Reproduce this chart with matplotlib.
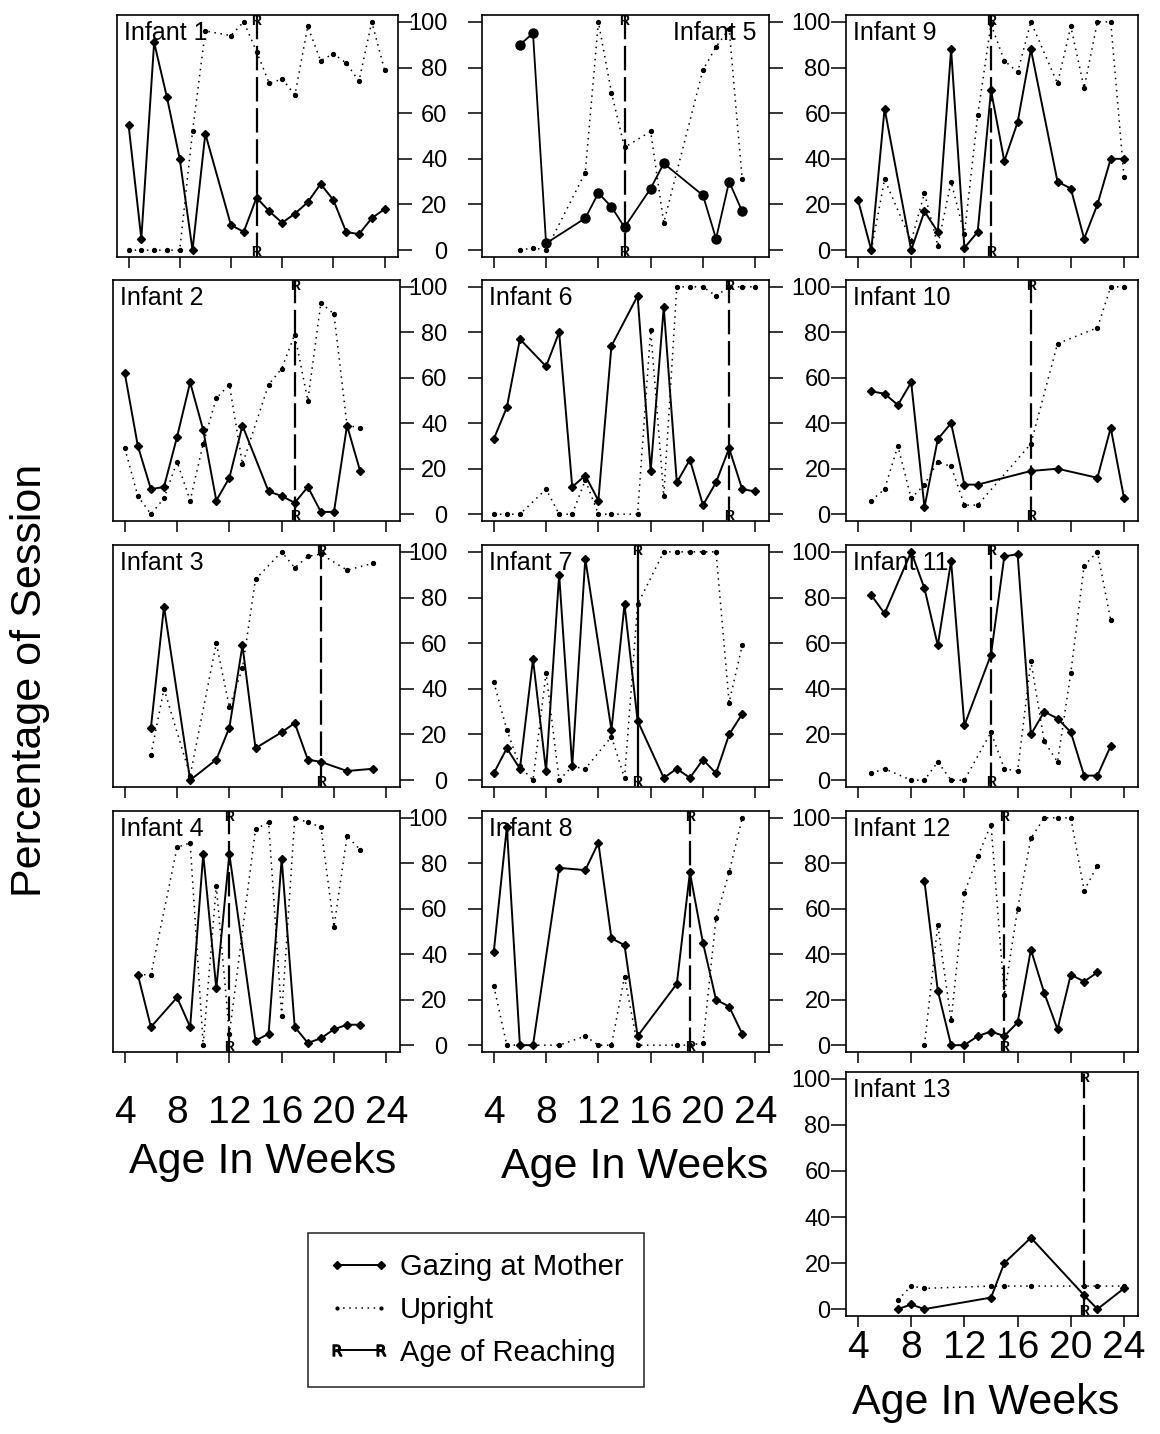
import numpy as np
import matplotlib
matplotlib.use("Agg")
import matplotlib.pyplot as plt
from matplotlib.lines import Line2D

plt.rcParams['font.family'] = ['Liberation Sans', 'DejaVu Sans']

# data: weeks, % gazing at mother, % upright, age of reaching
inf1_wk = [4, 5, 6, 7, 8, 9, 10, 12, 13, 14, 15, 16, 17, 18, 19, 20, 21, 22, 23, 24]
inf1_gaze = [55, 5, 91, 67, 40, 0, 51, 11, 8, 23, 17, 12, 16, 21, 29, 22, 8, 7, 14, 18]
inf1_up = [0, 0, 0, 0, 0, 52, 96, 94, 100, 87, 73, 75, 68, 98, 83, 86, 82, 74, 100, 79]
inf1_reach = 14

inf2_wk = [4, 5, 6, 7, 8, 9, 10, 11, 12, 13, 15, 16, 17, 18, 19, 20, 21, 22]
inf2_gaze = [62, 30, 11, 12, 34, 58, 37, 6, 16, 39, 10, 8, 5, 12, 1, 1, 39, 19]
inf2_up = [29, 8, 0, 7, 23, 6, 31, 51, 57, 22, 57, 64, 79, 50, 93, 88, 39, 38]
inf2_reach = 17

inf3_wk = [6, 7, 9, 11, 12, 13, 14, 16, 17, 18, 19, 21, 23]
inf3_gaze = [23, 76, 0, 9, 23, 59, 14, 21, 25, 9, 8, 4, 5]
inf3_up = [11, 40, 2, 60, 32, 49, 88, 100, 93, 98, 99, 92, 95]
inf3_reach = 19

inf4_wk = [5, 6, 8, 9, 10, 11, 12, 14, 15, 16, 17, 18, 19, 20, 21, 22]
inf4_gaze = [31, 8, 21, 8, 84, 25, 84, 2, 5, 82, 8, 1, 3, 7, 9, 9]
inf4_up = [31, 31, 87, 89, 0, 70, 5, 95, 98, 13, 100, 98, 96, 52, 92, 86]
inf4_reach = 12

inf5_wk = [6, 7, 8, 11, 12, 13, 14, 16, 17, 20, 21, 22, 23]
inf5_gaze = [90, 95, 3, 14, 25, 19, 10, 27, 38, 24, 5, 30, 17]
inf5_up = [0, 1, 0, 34, 100, 69, 45, 52, 12, 79, 89, 97, 31]
inf5_reach = 14

inf6_wk = [4, 5, 6, 8, 9, 10, 11, 12, 13, 15, 16, 17, 18, 19, 20, 21, 22, 23, 24]
inf6_gaze = [33, 47, 77, 65, 80, 12, 17, 6, 74, 96, 19, 91, 14, 24, 4, 14, 29, 11, 10]
inf6_up = [0, 0, 0, 11, 0, 0, 15, 0, 0, 0, 81, 8, 100, 100, 100, 96, 100, 100, 100]
inf6_reach = 22

inf7_wk = [4, 5, 6, 7, 8, 9, 10, 11, 13, 14, 15, 17, 18, 19, 20, 21, 22, 23]
inf7_gaze = [3, 14, 5, 53, 4, 90, 6, 97, 22, 77, 26, 1, 5, 1, 9, 3, 20, 29]
inf7_up = [43, 22, 6, 0, 47, 0, 6, 5, 19, 1, 77, 100, 100, 100, 100, 100, 34, 59]
inf7_reach = 15

inf8_wk = [4, 5, 6, 7, 9, 11, 12, 13, 14, 15, 18, 19, 20, 21, 22, 23]
inf8_gaze = [41, 96, 0, 0, 78, 77, 89, 47, 44, 4, 27, 76, 45, 20, 17, 5]
inf8_up = [26, 0, 0, 0, 0, 4, 0, 0, 30, 0, 0, 0, 1, 56, 76, 100]
inf8_reach = 19

inf9_wk = [4, 5, 6, 8, 9, 10, 11, 12, 13, 14, 15, 16, 17, 19, 20, 21, 22, 23, 24]
inf9_gaze = [22, 0, 62, 0, 17, 8, 88, 1, 8, 70, 39, 56, 88, 30, 27, 5, 20, 40, 40]
inf9_up = [np.nan, 0, 31, 4, 25, 2, 30, 7, 59, 99, 83, 78, 100, 73, 98, 71, 100, 100, 32]
inf9_reach = 14

inf10_wk = [5, 6, 7, 8, 9, 10, 11, 12, 13, 17, 19, 22, 23, 24]
inf10_gaze = [54, 53, 48, 58, 3, 33, 40, 13, 13, 19, 20, 16, 38, 7]
inf10_up = [6, 11, 30, 7, 13, 23, 21, 4, 4, 31, 75, 82, 100, 100]
inf10_reach = 17

inf11_wk = [5, 6, 8, 9, 10, 11, 12, 14, 15, 16, 17, 18, 19, 20, 21, 22, 23]
inf11_gaze = [81, 73, 100, 84, 59, 96, 24, 55, 98, 99, 20, 30, 27, 21, 2, 2, 15]
inf11_up = [3, 5, 0, 0, 8, 0, 0, 21, 5, 4, 52, 17, 8, 47, 94, 100, 70]
inf11_reach = 14

inf12_wk = [9, 10, 11, 12, 13, 14, 15, 16, 17, 18, 19, 20, 21, 22]
inf12_gaze = [72, 24, 0, 0, 4, 6, 4, 10, 42, 23, 7, 31, 28, 32]
inf12_up = [0, 53, 11, 67, 83, 97, 22, 60, 91, 100, 100, 100, 68, 79]
inf12_reach = 15

inf13_wk = [7, 8, 9, 14, 15, 17, 21, 22, 24]
inf13_gaze = [0, 2, 0, 5, 20, 31, 6, 0, 9]
inf13_up = [4, 10, 9, 10, 10, 10, 10, 10, 10]
inf13_reach = 21

infants = [
    (1, inf1_wk, inf1_gaze, inf1_up, inf1_reach),
    (2, inf2_wk, inf2_gaze, inf2_up, inf2_reach),
    (3, inf3_wk, inf3_gaze, inf3_up, inf3_reach),
    (4, inf4_wk, inf4_gaze, inf4_up, inf4_reach),
    (5, inf5_wk, inf5_gaze, inf5_up, inf5_reach),
    (6, inf6_wk, inf6_gaze, inf6_up, inf6_reach),
    (7, inf7_wk, inf7_gaze, inf7_up, inf7_reach),
    (8, inf8_wk, inf8_gaze, inf8_up, inf8_reach),
    (9, inf9_wk, inf9_gaze, inf9_up, inf9_reach),
    (10, inf10_wk, inf10_gaze, inf10_up, inf10_reach),
    (11, inf11_wk, inf11_gaze, inf11_up, inf11_reach),
    (12, inf12_wk, inf12_gaze, inf12_up, inf12_reach),
    (13, inf13_wk, inf13_gaze, inf13_up, inf13_reach),
]
week_ticks = [4, 8, 12, 16, 20, 24]
pct_ticks = [0, 20, 40, 60, 80, 100]

W, H = 1160, 1434
fig = plt.figure(figsize=(W / 100, H / 100), dpi=100)

# panel boxes in pixels
cols = [(113, 400), (482, 769), (846, 1138)]
rows = [(15, 257), (280, 521), (545, 787), (811, 1052), (1072, 1316)]

def add_panel(c, r):
    l, rr = cols[c]
    if c == 0 and r == 0:
        l, rr = 117, 398  # first panel sits a bit narrower
    t, b = rows[r]
    return fig.add_axes([l / W, 1 - b / H, (rr - l) / W, (b - t) / H])

reach_dash = (0, (11, 3))

for n, wk, gaze, up, reach in infants:
    if n <= 4:
        c, r = 0, n - 1
    elif n <= 8:
        c, r = 1, n - 5
    else:
        c, r = 2, n - 9
    ax = add_panel(c, r)

    ax.plot(wk, up, color='k', lw=1.1, ls=(0, (1, 3)), marker='o', ms=2.8)
    if n == 5:
        ax.plot(wk, gaze, color='k', lw=1.3, marker='o', ms=6.5)
    else:
        ax.plot(wk, gaze, color='k', lw=1.4, marker='D', ms=3.6)

    ls = '-' if n == 7 else reach_dash
    ax.axvline(reach, color='k', lw=1.6, ls=ls)
    tr = ax.get_xaxis_transform()
    ax.text(reach, 1.005, 'R', transform=tr, ha='center', va='top',
            fontsize=10, fontweight='bold')
    ax.text(reach, -0.01, 'R', transform=tr, ha='center', va='bottom',
            fontsize=10, fontweight='bold')

    if n == 5:
        ax.text(0.955, 0.975, 'Infant %d' % n, transform=ax.transAxes,
                ha='right', va='top', fontsize=18)
    else:
        ax.text(0.025, 0.975, 'Infant %d' % n, transform=ax.transAxes,
                ha='left', va='top', fontsize=18)

    ax.set_xlim(3.1, 25.05)
    ax.set_ylim(-3, 103)
    ax.set_xticks(week_ticks)
    ax.set_yticks(pct_ticks)
    for s in ax.spines.values():
        s.set_linewidth(1.2)

    bottom_row = (n in (4, 8, 13))
    ax.tick_params(axis='x', direction='out', length=8, width=1.1,
                   labelbottom=bottom_row, labelsize=28,
                   pad=(2 if n == 13 else 23))
    if c == 0:
        ax.tick_params(axis='y', left=False, right=True, labelleft=False,
                       direction='out', length=10, width=1.1)
    elif c == 1:
        ax.tick_params(axis='y', left=True, right=True, labelleft=True,
                       direction='out', length=10, width=1.1, labelsize=17, pad=15)
    else:
        ax.tick_params(axis='y', left=True, right=False, labelleft=True,
                       direction='out', length=11, width=1.1, labelsize=17, pad=0)

fig.text(30 / W, 1 - 680 / H, 'Percentage of Session', rotation=90,
         ha='center', va='center', fontsize=31)
fig.text(263 / W, 1 - 1162 / H, 'Age In Weeks', ha='center', va='center', fontsize=31)
fig.text(635 / W, 1 - 1167 / H, 'Age In Weeks', ha='center', va='center', fontsize=31)
fig.text(986 / W, 1 - 1403 / H, 'Age In Weeks', ha='center', va='center', fontsize=31)

handles = [
    Line2D([0], [0], color='k', lw=1.4, marker='D', ms=3.6),
    Line2D([0], [0], color='k', lw=1.1, ls=(0, (1, 3)), marker='o', ms=2),
    Line2D([0], [0], color='k', lw=1.4, marker=r'$\mathrm{R}$', ms=8),
]
labels = ['Gazing at Mother', 'Upright', 'Age of Reaching']
leg = fig.legend(handles, labels, loc='upper left',
                 bbox_to_anchor=(308 / W, 1 - 1233 / H), numpoints=2,
                 fontsize=21, frameon=True, fancybox=False, edgecolor='k',
                 handlelength=2.1, handletextpad=0.35, labelspacing=0.5,
                 borderpad=0.7, borderaxespad=0)
leg.get_frame().set_linewidth(1.2)

fig.savefig('out.png', dpi=100)
